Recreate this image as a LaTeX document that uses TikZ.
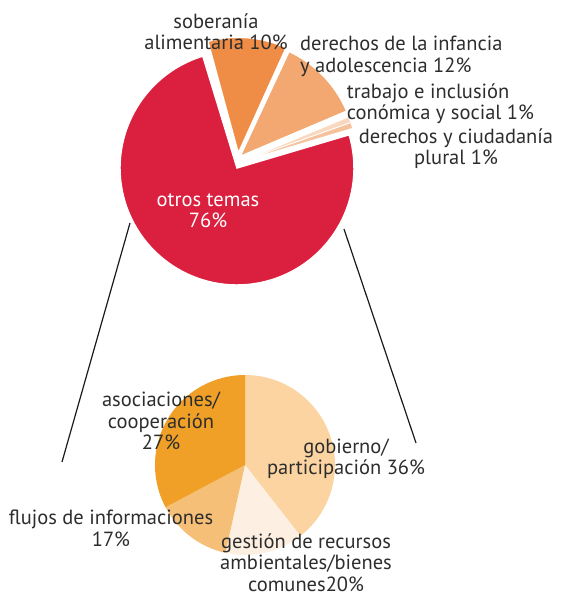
\documentclass[tikz,border=0pt]{standalone}
\usepackage{fontspec}
\setmainfont{PT Sans}
\usetikzlibrary{calc}
\definecolor{cred}{HTML}{DB1F3E}
\definecolor{corange}{HTML}{EF8D47}
\definecolor{cpeach}{HTML}{F2A870}
\definecolor{ctrab}{HTML}{FAD8BF}
\definecolor{cciud}{HTML}{F6C29E}
\definecolor{cgob}{HTML}{FBD4A1}
\definecolor{cgest}{HTML}{FDF0E2}
\definecolor{cflu}{HTML}{F6BF77}
\definecolor{casoc}{HTML}{F0A026}
\definecolor{ctext}{HTML}{2D2D2D}
\definecolor{cline}{HTML}{1A1A1A}
\tikzset{
  topslice/.style={fill=#1, draw=white, line width=1.5pt, line join=miter},
  thinslice/.style={fill=#1, draw=white, line width=0.8pt, line join=miter},
  botslice/.style={fill=#1, draw=none},
  lbl/.style={text=ctext, font=\fontsize{20.5}{21.7}\selectfont, inner sep=0pt, anchor=base},
  lblw/.style={lbl, text=white},
  zoomline/.style={draw=cline, line width=1.2pt},
}
\begin{document}
\begin{tikzpicture}[x=1pt,y=1pt]
\useasboundingbox (0,0) rectangle (560,597);
% top pie
\coordinate (ored) at (237,429);
\coordinate (oorange) at (238.3,443.7);
\coordinate (opeach) at (240,440.5);
\coordinate (osmall) at (241.5,435.5);
\fill[topslice=cred] (ored) -- ++(107:117pt) arc[start angle=107, end angle=376.5, radius=117pt] -- cycle;
\fill[topslice=corange] (oorange) -- ++(65.6:116pt) arc[start angle=65.6, end angle=105.2, radius=116pt] -- cycle;
\fill[topslice=cpeach] (opeach) -- ++(23:116pt) arc[start angle=23, end angle=65, radius=116pt] -- cycle;
\fill[thinslice=ctrab] (osmall) -- ++(19.6:116pt) arc[start angle=19.6, end angle=22.6, radius=116pt] -- cycle;
\fill[thinslice=cciud] (osmall) -- ++(16.6:116pt) arc[start angle=16.6, end angle=19.6, radius=116pt] -- cycle;
% bottom pie
\coordinate (obot) at (245,132);
\fill[botslice=cgob] (obot) -- ++(90:90pt) arc[start angle=90, end angle=-52, radius=90pt] -- cycle;
\fill[botslice=cgest] (obot) -- ++(-52:90pt) arc[start angle=-52, end angle=-102.6, radius=90pt] -- cycle;
\fill[botslice=cflu] (obot) -- ++(-102.6:90pt) arc[start angle=-102.6, end angle=-152, radius=90pt] -- cycle;
\fill[botslice=casoc] (obot) -- ++(208:90pt) arc[start angle=208, end angle=90, radius=90pt] -- cycle;
% connector lines
\coordinate (la) at (130,374);
\coordinate (lb) at (62,135);
\coordinate (ra) at (344,368);
\coordinate (rb) at (416,154);
\draw[zoomline] (la) -- (lb);
\draw[zoomline] (ra) -- (rb);
% labels top (base anchor = baseline of last line)
\node[lbl, align=center] (tsob) at (216,547) {soberanía\\alimentaria 10\%};
\node[lbl, align=left, anchor=base west] (tinf) at (300,524.3) {derechos de la infancia\\y adolescencia 12\%};
\node[lbl, align=left, anchor=base west] (ttrab) at (346.7,477) {trabajo e inclusión\\conómica y social 1\%};
\node[lbl, align=center] (tciud) at (456,432) {derechos y ciudadanía\\plural 1\%};
\node[lblw, align=center] (totros) at (208,369) {otros temas\\76\%};
% labels bottom
\node[lbl, align=center] (tasoc) at (161,147) {asociaciones/\\cooperación\\27\%};
\node[lbl, align=center] (tgob) at (346,122) {gobierno/\\participación 36\%};
\node[lbl, align=center] (tflu) at (111,50.3) {flujos de informaciones\\17\%};
\node[lbl, align=center] (tgest) at (306,5.5) {gestión de recursos\\ambientales/bienes\\comunes20\%};
\end{tikzpicture}
\end{document}
